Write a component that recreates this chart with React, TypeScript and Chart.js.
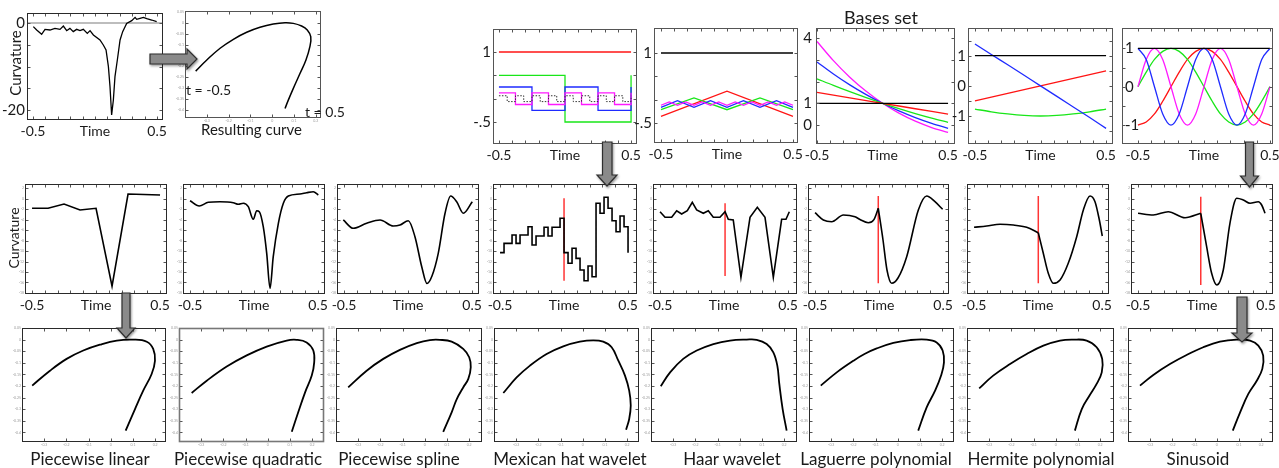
import React, { useEffect, useRef } from "react";
import { Chart, registerables } from "chart.js";

Chart.register(...registerables);

const FONT = "Lato, 'Liberation Sans', sans-serif";
const RED = "#ff1414";
const GREEN = "#19e619";
const BLUE = "#1f2bff";
const MAGENTA = "#ff19ff";
const BLACK = "#000000";
const MARKER = "#ff3535";

// ---------------- tick values / labels ----------------
const timeTicks = [-0.5, 0, 0.5];
const timeLabels = ["-0.5", "Time", "0.5"];
const tenthTicks = [-0.5, -0.4, -0.3, -0.2, -0.1, 0, 0.1, 0.2, 0.3, 0.4, 0.5];

const curvTicks = [0, -20];
const curvLabels = ["0", "-20"];
const curvMinor = [0, -5, -10, -15, -20];

const shapeXTicks = [-0.3, -0.2, -0.1, 0, 0.1, 0.2];
const shapeXLabels = ["-0.3", "-0.2", "-0.1", "0", "0.1", "0.2"];
const shapeYTicks = [0.05, 0, -0.05, -0.1, -0.15, -0.2, -0.25, -0.3, -0.35, -0.4];
const shapeYLabels = ["0.05", "0", "-0.05", "-0.1", "-0.15", "-0.2", "-0.25", "-0.3", "-0.35", "-0.4"];

const recYTicks = [2, 0, -2, -4, -6, -8, -10, -12, -14, -16, -18];
const recYLabels = ["2", "0", "-2", "-4", "-6", "-8", "-10", "-12", "-14", "-16", "-18"];

const basesHalfTicks = [1, -0.5];
const basesHalfLabels = ["1", "-.5"];
const basesHalfMinor = [1, 0.5, 0, -0.5];
const lagTicks = [4, 1, 0];
const lagLabels = ["4", "1", "0"];
const lagMinor = [4, 3, 2, 1, 0];
const unitTicks = [1, 0, -1];
const unitLabels = ["1", "0", "-1"];
const hermMinor = [1.5, 1, 0.5, 0, -0.5, -1, -1.5];
const sinMinor = [1, 0.5, 0, -0.5, -1];

// ---------------- measured curvature (top left) ----------------
const curvTime = [-0.497, -0.47, -0.43, -0.403, -0.363, -0.323, -0.282, -0.255, -0.228, -0.202, -0.175, -0.148, -0.121, -0.094, -0.062, -0.04, -0.013, 0.04, 0.067, 0.089, 0.108, 0.121, 0.134, 0.148, 0.161, 0.18, 0.202, 0.223, 0.255, 0.296, 0.323, 0.336, 0.363, 0.39, 0.417, 0.457, 0.497];
const curvValue = [-0.84, -1.61, -2.61, -1.46, -1.61, -1.23, -1.46, -0.69, -1.76, -1.23, -1.99, -1.46, -1.76, -1.46, -2.38, -1.76, -2.76, -3.91, -5.06, -6.21, -10.04, -14.64, -21.15, -17.7, -12.34, -8.51, -3.91, -1.99, -0.08, 0.54, 1.3, 0.84, 1.07, 1.3, 1.0, 0.69, 0.31];
const zeroLineTime = [-0.548, 0.548];
const zeroLineValue = [0, 0];

// ---------------- resulting curve (top) ----------------
const resultX = [-0.351, -0.3, -0.239, -0.178, -0.117, -0.056, 0.005, 0.059, 0.097, 0.135, 0.161, 0.177, 0.173, 0.155, 0.128, 0.097, 0.074, 0.059];
const resultY = [-0.222, -0.171, -0.117, -0.076, -0.044, -0.021, -0.006, 0, -0.003, -0.015, -0.033, -0.064, -0.11, -0.171, -0.232, -0.301, -0.355, -0.393];

// ---------------- bases set ----------------
const grid2 = [-0.5, 0.5];
const grid3 = [-0.5, 0, 0.5];
const grid5 = [-0.5, -0.25, 0, 0.25, 0.5];
const grid9 = [-0.5, -0.375, -0.25, -0.125, 0, 0.125, 0.25, 0.375, 0.5];
const grid17 = [-0.5, -0.4375, -0.375, -0.3125, -0.25, -0.1875, -0.125, -0.0625, 0, 0.0625, 0.125, 0.1875, 0.25, 0.3125, 0.375, 0.4375, 0.5];

const haarRed = [1, 1];
const haarGreen = [0.5, -0.5, 0.5];
const haarBlue = [0.25, -0.25, 0.25, -0.25, 0.25];
const haarMagenta = [0.125, -0.125, 0.125, -0.125, 0.125, -0.125, 0.125, -0.125, 0.125];
const haarDotted = [0.0625, -0.0625, 0.0625, -0.0625, 0.0625, -0.0625, 0.0625, -0.0625, 0.0625, -0.0625, 0.0625, -0.0625, 0.0625, -0.0625, 0.0625, -0.0625, 0.0625];

const hatBlack = [1, 1];
const hatRed = [-0.36, 0.18, -0.36];
const hatGreen = [-0.215, 0.036, -0.215, 0.036, -0.215];
const hatBlue = [-0.166, -0.022, -0.166, -0.022, -0.166, -0.022, -0.166, -0.022, -0.166];
const hatMagenta = [-0.12, -0.05, -0.12, -0.05, -0.12, -0.05, -0.12, -0.05, -0.12, -0.05, -0.12, -0.05, -0.12, -0.05, -0.12, -0.05, -0.12];

const lagBlack = [1, 1];
const lagRed = [1.5, 1.375, 1.25, 1.125, 1, 0.875, 0.75, 0.625, 0.5];
const lagGreen = [2.125, 1.82, 1.531, 1.258, 1, 0.758, 0.531, 0.32, 0.125];
const lagBlue = [2.896, 2.345, 1.846, 1.399, 1, 0.648, 0.341, 0.077, -0.146];
const lagMagenta = [3.836, 2.958, 2.198, 1.548, 1, 0.546, 0.177, -0.113, -0.331];

const hermBlack = [1, 1];
const hermRed = [-0.5, -0.375, -0.25, -0.125, 0, 0.125, 0.25, 0.375, 0.5];
const hermBlue = [1.39, 1.04, 0.7, 0.35, 0, -0.35, -0.7, -1.05, -1.41];
const hermGreen = [-0.77, -0.86, -0.93, -0.98, -1.0, -0.98, -0.93, -0.86, -0.77];

const sinBlack = [1, 1];
const sinRed = [-1, -0.92, -0.71, -0.38, 0, 0.38, 0.71, 0.92, 1, 0.92, 0.71, 0.38, 0, -0.38, -0.71, -0.92, -1];
const sinGreen = [0, 0.38, 0.71, 0.92, 1, 0.92, 0.71, 0.38, 0, -0.38, -0.71, -0.92, -1, -0.92, -0.71, -0.38, 0];
const sinBlue = [1, 0.71, 0, -0.71, -1, -0.71, 0, 0.71, 1, 0.71, 0, -0.71, -1, -0.71, 0, 0.71, 1];
const sinMagenta = [0, 0.71, 1, 0.71, 0, -0.71, -1, -0.71, 0, 0.71, 1, 0.71, 0, -0.71, -1, -0.71, 0];

// ---------------- reconstructed curvature (middle row) ----------------
const pwlTime = [-0.5, -0.375, -0.25, -0.125, 0, 0.125, 0.25, 0.375, 0.5];
const pwlCurv = [-1.84, -1.84, -1.02, -2.16, -1.84, -16.7, 0.89, 0.8, 0.7];

const pwqTime = [-0.5, -0.428, -0.357, -0.266, -0.162, -0.123, -0.084, -0.045, -0.006, 0.021, 0.041, 0.072, 0.099, 0.125, 0.15, 0.19, 0.229, 0.268, 0.359, 0.411, 0.463, 0.502];
const pwqCurv = [-0.39, -1.4, -0.69, -0.58, -0.77, -1.08, -0.88, -1.53, -3.94, -2.3, -2.49, -5.35, -10.43, -17.11, -11.08, -4.7, -0.88, 0.51, 0.89, 1.14, 1.33, 0.7];

const splTime = [-0.506, -0.428, -0.323, -0.219, -0.115, -0.063, 0.002, 0.054, 0.107, 0.148, 0.187, 0.236, 0.289, 0.333, 0.38, 0.432, 0.502];
const splCurv = [-4.07, -5.66, -4.7, -4.07, -5.22, -5.03, -4.21, -7.26, -12.99, -16.2, -14.76, -10.43, -2.79, 0.51, -0.58, -2.79, -0.58];

const mexTime = [-0.5, -0.46875, -0.4375, -0.40625, -0.375, -0.34375, -0.3125, -0.28125, -0.25, -0.21875, -0.1875, -0.15625, -0.125, -0.09375, -0.0625, -0.03125, 0, 0.03125, 0.0625, 0.09375, 0.125, 0.15625, 0.1875, 0.21875, 0.25, 0.28125, 0.3125, 0.34375, 0.375, 0.40625, 0.4375, 0.46875, 0.5];
const mexCurv = [-10.31, -8.53, -8.53, -6.94, -8.53, -6.94, -6.94, -5.35, -8.85, -7.13, -7.13, -5.47, -7.13, -5.47, -5.47, -3.75, -10.31, -12.34, -9.48, -11.39, -13.62, -15.66, -12.85, -14.9, -0.88, -2.79, 0.26, -1.84, -4.21, -6.31, -3.31, -5.35, -10.31];

const haarTime = [-0.5, -0.461, -0.409, -0.37, -0.331, -0.287, -0.248, -0.214, -0.162, -0.123, -0.084, -0.032, 0.008, 0.033, 0.072, 0.132, 0.203, 0.26, 0.32, 0.385, 0.45, 0.484, 0.51];
const haarCurv = [-2.49, -3.56, -3.56, -2.3, -2.93, -2.3, -0.69, -2.16, -2.79, -2.3, -3.56, -3.56, -2.49, -3.94, -4.07, -15.01, -3.56, -1.65, -3.56, -15.01, -3.94, -3.94, -2.49];

const lagTimeA = [-0.5, -0.435, -0.37, -0.279, -0.188, -0.149, -0.084, -0.04, -0.006];
const lagCurvA = [-2.68, -4.07, -4.4, -3.12, -3.45, -3.98, -4.6, -4.0, -1.84];
const lagTimeB = [-0.006, 0.031, 0.062, 0.099, 0.148, 0.216, 0.307, 0.372, 0.437, 0.497];
const lagCurvB = [-1.84, -7.89, -13.62, -16.16, -15.15, -11.08, -2.16, 0.51, -0.58, -2.03];

const hermTimeA = [-0.5, -0.401, -0.297, -0.193, -0.089, 0.002];
const hermCurvA = [-5.47, -5.22, -4.89, -5.03, -5.47, -6.5];
const hermTimeB = [0.002, 0.041, 0.08, 0.119, 0.172, 0.236, 0.302, 0.354, 0.406, 0.445, 0.479, 0.502];
const hermCurvB = [-6.5, -10.43, -14.25, -16.16, -15.53, -12.34, -7.26, -2.16, 0.51, -0.58, -4.07, -7.13];

const sinTimeA = [-0.5, -0.381, -0.264, -0.133, -0.01];
const sinCurvA = [-2.79, -3.12, -2.49, -3.63, -2.79];
const sinTimeB = [-0.01, 0.036, 0.075, 0.115, 0.166, 0.218, 0.271, 0.322, 0.375, 0.44, 0.466, 0.492];
const sinCurvB = [-2.79, -9.17, -14.25, -16.48, -13.62, -4.7, 0.07, -0.25, -0.88, -0.58, -1.21, -2.79];

// red split markers (Mexican hat, Haar, Laguerre, Hermite, Sinusoid)
const markerTime = [0, 0.008, -0.006, 0.002, -0.01];
const markerTop = [0.07, -0.88, 0.51, 0.51, 0.38];
const markerBottom = [-15.66, -14.76, -16.16, -16.16, -16.48];

// ---------------- resulting shapes (bottom row) ----------------
const shapeLinX = [-0.354, -0.274, -0.199, -0.124, -0.049, 0.027, 0.101, 0.162, 0.191, 0.199, 0.184, 0.146, 0.109, 0.067];
const shapeLinY = [-0.198, -0.134, -0.083, -0.047, -0.022, -0.004, 0, -0.009, -0.04, -0.091, -0.148, -0.22, -0.299, -0.392];
const shapeQuadX = [-0.343, -0.275, -0.185, -0.095, -0.005, 0.085, 0.13, 0.175, 0.205, 0.209, 0.198, 0.168, 0.137, 0.108];
const shapeQuadY = [-0.23, -0.177, -0.116, -0.068, -0.03, -0.004, -0.001, -0.012, -0.047, -0.098, -0.155, -0.227, -0.313, -0.397];
const shapeSplX = [-0.345, -0.262, -0.187, -0.112, -0.036, 0.023, 0.068, 0.121, 0.173, 0.2, 0.207, 0.196, 0.173, 0.144, 0.121, 0.083];
const shapeSplY = [-0.206, -0.134, -0.083, -0.044, -0.015, -0.002, -0.001, -0.009, -0.04, -0.076, -0.119, -0.169, -0.206, -0.256, -0.313, -0.397];
const shapeMexX = [-0.358, -0.298, -0.238, -0.163, -0.088, -0.013, 0.047, 0.092, 0.13, 0.16, 0.19, 0.209, 0.216, 0.209, 0.195];
const shapeMexY = [-0.23, -0.163, -0.112, -0.062, -0.029, -0.009, -0.003, -0.009, -0.033, -0.091, -0.155, -0.22, -0.284, -0.342, -0.388];
const shapeHaarX = [-0.356, -0.314, -0.255, -0.194, -0.119, -0.044, 0.031, 0.076, 0.121, 0.151, 0.169, 0.178, 0.193, 0.211];
const shapeHaarY = [-0.201, -0.141, -0.083, -0.047, -0.019, -0.004, 0, -0.001, -0.019, -0.055, -0.112, -0.191, -0.299, -0.392];
const shapeLagX = [-0.347, -0.275, -0.2, -0.15, -0.095, -0.02, 0.055, 0.13, 0.175, 0.202, 0.208, 0.195, 0.168, 0.13, 0.092];
const shapeLagY = [-0.198, -0.141, -0.091, -0.062, -0.038, -0.014, -0.002, 0, -0.012, -0.047, -0.098, -0.155, -0.22, -0.292, -0.392];
const shapeHermX = [-0.345, -0.282, -0.206, -0.131, -0.056, 0.019, 0.079, 0.139, 0.184, 0.209, 0.207, 0.184, 0.152, 0.117, 0.086];
const shapeHermY = [-0.21, -0.155, -0.105, -0.062, -0.026, -0.004, 0, -0.004, -0.033, -0.083, -0.141, -0.191, -0.241, -0.299, -0.392];
const shapeSinX = [-0.346, -0.286, -0.211, -0.136, -0.061, 0.014, 0.09, 0.15, 0.187, 0.209, 0.205, 0.18, 0.142, 0.105, 0.072];
const shapeSinY = [-0.198, -0.152, -0.105, -0.066, -0.033, -0.009, 0, -0.004, -0.026, -0.069, -0.126, -0.177, -0.234, -0.313, -0.392];

const methodNames = ["Piecewise linear", "Piecewise quadratic", "Piecewise spline", "Mexican hat wavelet", "Haar wavelet", "Laguerre polynomial", "Hermite polynomial", "Sinusoid"];

// ---------------- layout (page pixels) ----------------
const recLefts = [25, 183, 337, 493, 653, 808, 967, 1131];
const recWidths = [142, 142, 142, 144, 144, 141, 142, 142];
const shapeLefts = [22, 179, 336, 494, 651, 809, 967, 1128];
const shapeWidths = [144, 145, 146, 145, 146, 145, 147, 145];
const nameCenters = [90, 248, 399, 570, 732, 876, 1041, 1198];

// ---------------- helpers ----------------
function line(xs: number[], ys: number[], color: string, width: number, extra: any = {}) {
  return {
    data: xs.map((x, i) => ({ x, y: ys[i] })),
    borderColor: color,
    backgroundColor: color,
    borderWidth: width,
    pointRadius: 0,
    showLine: true,
    fill: false,
    tension: 0,
    ...extra,
  };
}

const framePlugin = {
  id: "frame",
  afterDatasetsDraw(chart: any, _args: any, opts: any) {
    const { ctx, chartArea: a, scales } = chart;
    const len = opts.len;
    ctx.save();
    const L = Math.round(a.left) + 0.5;
    const T = Math.round(a.top) + 0.5;
    const R = Math.round(a.right) - 0.5;
    const B = Math.round(a.bottom) - 0.5;
    ctx.lineWidth = 1;
    ctx.strokeStyle = opts.tickColor;
    ctx.beginPath();
    (opts.xMinor || []).forEach((v: number) => {
      const p = scales.x.getPixelForValue(v);
      if (p < a.left + 1 || p > a.right - 1) return;
      const px = Math.round(p) + 0.5;
      ctx.moveTo(px, B);
      ctx.lineTo(px, B - len);
      ctx.moveTo(px, T);
      ctx.lineTo(px, T + len);
    });
    (opts.yMinor || []).forEach((v: number) => {
      const p = scales.y.getPixelForValue(v);
      if (p < a.top + 1 || p > a.bottom - 1) return;
      const py = Math.round(p) + 0.5;
      ctx.moveTo(L, py);
      ctx.lineTo(L + len, py);
      ctx.moveTo(R, py);
      ctx.lineTo(R - len, py);
    });
    ctx.stroke();
    ctx.strokeStyle = opts.color;
    ctx.lineWidth = opts.width;
    ctx.strokeRect(L, T, R - L, B - T);
    ctx.restore();
  },
};

interface Spec {
  box: number[]; // x, y, w, h of the plot frame
  m: number[]; // left, right, top, bottom margins
  x: number[];
  y: number[];
  xTicks: number[];
  xLabels: string[];
  xFont: number;
  xPad: number;
  xColor: string;
  yTicks: number[];
  yLabels: string[];
  yFont: number;
  yPad: number;
  yColor: string;
  yMirror?: boolean;
  xMinor: number[];
  yMinor: number[];
  datasets: any[];
  frameColor?: string;
  frameWidth?: number;
}

function buildConfig(s: Spec): any {
  const [l, r, t, b] = s.m;
  return {
    type: "scatter",
    data: { datasets: s.datasets },
    options: {
      responsive: false,
      animation: false,
      devicePixelRatio: 1,
      events: [],
      layout: { padding: { left: 0, right: r, top: t, bottom: 0 } },
      plugins: {
        legend: { display: false },
        tooltip: { enabled: false },
        frame: {
          xMinor: s.xMinor,
          yMinor: s.yMinor,
          color: s.frameColor || "#2a2a2a",
          width: s.frameWidth || 1,
          tickColor: "#555",
          len: 3,
        },
      },
      scales: {
        x: {
          type: "linear",
          min: s.x[0],
          max: s.x[1],
          afterBuildTicks: (sc: any) => {
            sc.ticks = s.xTicks.map((v) => ({ value: v }));
          },
          afterFit: (sc: any) => {
            sc.height = b;
          },
          grid: { display: false, drawTicks: false },
          border: { display: false },
          ticks: {
            autoSkip: false,
            maxRotation: 0,
            padding: s.xPad,
            color: s.xColor,
            font: { family: FONT, size: s.xFont },
            callback: (_v: any, i: number) => s.xLabels[i],
          },
        },
        y: {
          type: "linear",
          min: s.y[0],
          max: s.y[1],
          afterBuildTicks: (sc: any) => {
            sc.ticks = s.yTicks.map((v) => ({ value: v }));
          },
          afterFit: (sc: any) => {
            sc.width = l;
          },
          grid: { display: false, drawTicks: false },
          border: { display: false },
          ticks: {
            autoSkip: false,
            mirror: !!s.yMirror,
            padding: s.yPad,
            color: s.yColor,
            font: { family: FONT, size: s.yFont },
            callback: (_v: any, i: number) => s.yLabels[i],
          },
        },
      },
    },
    plugins: [framePlugin],
  };
}

function Panel({ spec }: { spec: Spec }) {
  const ref = useRef<HTMLCanvasElement | null>(null);
  const [bx, by, bw, bh] = spec.box;
  const [l, r, t, b] = spec.m;
  const W = bw + l + r;
  const H = bh + t + b;
  useEffect(() => {
    const chart = new Chart(ref.current as HTMLCanvasElement, buildConfig(spec));
    return () => chart.destroy();
  }, []);
  return (
    <canvas
      ref={ref}
      width={W}
      height={H}
      style={{ position: "absolute", left: bx - l, top: by - t, width: W, height: H }}
    />
  );
}

const TXT = "#1a1a1a";
const TINY = "#9a9a9a";

function timeAxis(box: number[], m: number[], x: number[], y: number[]) {
  return {
    box,
    m,
    x,
    y,
    xTicks: timeTicks,
    xLabels: timeLabels,
    xFont: 14,
    xPad: 3,
    xColor: TXT,
    xMinor: tenthTicks,
  };
}

// ---------------- specs ----------------
const curvatureSpec: Spec = {
  ...timeAxis([27, 13, 136, 107], [27, 12, 14, 24], [-0.548, 0.548], [-22.3, 2.3]),
  yTicks: curvTicks,
  yLabels: curvLabels,
  yFont: 15,
  yPad: 2,
  yColor: TXT,
  yMinor: curvMinor,
  datasets: [
    line(curvTime, curvValue, BLACK, 1.3),
    line(zeroLineTime, zeroLineValue, "#bdbdbd", 2),
  ],
};

const resultSpec: Spec = {
  box: [185, 11, 136, 107],
  m: [16, 10, 8, 8],
  x: [-0.4, 0.224],
  y: [-0.437, 0.0537],
  xTicks: shapeXTicks,
  xLabels: shapeXLabels,
  xFont: 3.5,
  xPad: 1,
  xColor: TINY,
  yTicks: shapeYTicks,
  yLabels: shapeYLabels,
  yFont: 3.5,
  yPad: 1,
  yColor: TINY,
  xMinor: shapeXTicks,
  yMinor: shapeYTicks,
  frameColor: "#555",
  datasets: [line(resultX, resultY, BLACK, 1.5, { tension: 0.4 })],
};

const basesSpecs: Spec[] = [
  {
    ...timeAxis([493, 29, 144, 115], [28, 12, 14, 24], [-0.545, 0.545], [-0.971, 1.493]),
    yTicks: basesHalfTicks, yLabels: basesHalfLabels, yFont: 15, yPad: 2, yColor: TXT, yMinor: basesHalfMinor,
    frameColor: "#555",
    datasets: [
      line(grid2, haarRed, RED, 1.3, { stepped: true }),
      line(grid17, haarDotted, "#333", 1, { stepped: true, borderDash: [1.5, 1.5] }),
      line(grid9, haarMagenta, MAGENTA, 1.3, { stepped: true }),
      line(grid5, haarBlue, BLUE, 1.3, { stepped: true }),
      line(grid3, haarGreen, GREEN, 1.3, { stepped: true }),
    ],
  },
  {
    ...timeAxis([654, 28, 144, 115], [28, 12, 14, 24], [-0.553, 0.538], [-0.929, 1.536]),
    yTicks: basesHalfTicks, yLabels: basesHalfLabels, yFont: 15, yPad: 2, yColor: TXT, yMinor: basesHalfMinor,
    frameColor: "#555",
    datasets: [
      line(grid2, hatBlack, BLACK, 1.3),
      line(grid17, hatMagenta, MAGENTA, 1.3),
      line(grid9, hatBlue, BLUE, 1.3),
      line(grid5, hatGreen, GREEN, 1.3),
      line(grid3, hatRed, RED, 1.3),
    ],
  },
  {
    ...timeAxis([816, 28, 139, 116], [28, 12, 14, 24], [-0.508, 0.553], [-0.869, 4.457]),
    yTicks: lagTicks, yLabels: lagLabels, yFont: 15, yPad: 4, yColor: TXT, yMinor: lagMinor,
    frameColor: "#555",
    datasets: [
      line(grid2, lagBlack, BLACK, 1.3),
      line(grid9, lagRed, RED, 1.3),
      line(grid9, lagGreen, GREEN, 1.3, { cubicInterpolationMode: "monotone" }),
      line(grid9, lagBlue, BLUE, 1.3, { cubicInterpolationMode: "monotone" }),
      line(grid9, lagMagenta, MAGENTA, 1.3, { cubicInterpolationMode: "monotone" }),
    ],
  },
  {
    ...timeAxis([968, 28, 145, 116], [28, 12, 14, 24], [-0.553, 0.553], [-1.929, 1.919]),
    yTicks: unitTicks, yLabels: unitLabels, yFont: 15, yPad: 2, yColor: TXT, yMinor: hermMinor,
    frameColor: "#555",
    datasets: [
      line(grid2, hermBlack, BLACK, 1.3),
      line(grid9, hermBlue, BLUE, 1.3, { cubicInterpolationMode: "monotone" }),
      line(grid9, hermRed, RED, 1.3),
      line(grid9, hermGreen, GREEN, 1.3, { cubicInterpolationMode: "monotone" }),
    ],
  },
  {
    ...timeAxis([1122, 28, 151, 116], [28, 12, 14, 24], [-0.621, 0.523], [-1.494, 1.53]),
    yTicks: unitTicks, yLabels: unitLabels, yFont: 15, yPad: 3, yColor: TXT, yMirror: true, yMinor: sinMinor,
    frameColor: "#555",
    datasets: [
      line(grid2, sinBlack, BLACK, 1.3),
      line(grid17, sinBlue, BLUE, 1.3, { cubicInterpolationMode: "monotone" }),
      line(grid17, sinMagenta, MAGENTA, 1.3, { cubicInterpolationMode: "monotone" }),
      line(grid17, sinGreen, GREEN, 1.3, { cubicInterpolationMode: "monotone" }),
      line(grid17, sinRed, RED, 1.3, { cubicInterpolationMode: "monotone" }),
    ],
  },
];

function marker(i: number) {
  return line([markerTime[i], markerTime[i]], [markerTop[i], markerBottom[i]], MARKER, 1.5);
}

const smooth = { cubicInterpolationMode: "monotone" };
const recDatasets: any[][] = [
  [line(pwlTime, pwlCurv, BLACK, 1.6)],
  [line(pwqTime, pwqCurv, BLACK, 1.6, smooth)],
  [line(splTime, splCurv, BLACK, 1.6, smooth)],
  [line(mexTime, mexCurv, BLACK, 1.6, { stepped: true }), marker(0)],
  [line(haarTime, haarCurv, BLACK, 1.6), marker(1)],
  [line(lagTimeA, lagCurvA, BLACK, 1.6, smooth), line(lagTimeB, lagCurvB, BLACK, 1.6, smooth), marker(2)],
  [line(hermTimeA, hermCurvA, BLACK, 1.6, smooth), line(hermTimeB, hermCurvB, BLACK, 1.6, smooth), marker(3)],
  [line(sinTimeA, sinCurvA, BLACK, 1.6, smooth), line(sinTimeB, sinCurvB, BLACK, 1.6, smooth), marker(4)],
];

const recSpecs: Spec[] = recLefts.map((left, i) => ({
  ...timeAxis([left, 184, recWidths[i], 110], [16, 14, 14, 24], [-0.555, -0.555 + recWidths[i] / 128], [-18.2, 2.8]),
  yTicks: recYTicks,
  yLabels: recYLabels,
  yFont: 3.5,
  yPad: 1,
  yColor: TINY,
  yMinor: recYTicks,
  datasets: recDatasets[i],
}));

const shapeData: number[][][] = [
  [shapeLinX, shapeLinY],
  [shapeQuadX, shapeQuadY],
  [shapeSplX, shapeSplY],
  [shapeMexX, shapeMexY],
  [shapeHaarX, shapeHaarY],
  [shapeLagX, shapeLagY],
  [shapeHermX, shapeHermY],
  [shapeSinX, shapeSinY],
];

const shapeSpecs: Spec[] = shapeLefts.map((left, i) => ({
  box: [left, 328, shapeWidths[i], 114],
  m: [16, 12, 12, 10],
  x: [-0.4, -0.4 + shapeWidths[i] / 222],
  y: [-0.441, 0.05],
  xTicks: shapeXTicks,
  xLabels: shapeXLabels,
  xFont: 3.5,
  xPad: 1,
  xColor: TINY,
  yTicks: shapeYTicks,
  yLabels: shapeYLabels,
  yFont: 3.5,
  yPad: 1,
  yColor: TINY,
  xMinor: shapeXTicks,
  yMinor: shapeYTicks,
  frameColor: i === 1 ? "#777" : "#2a2a2a",
  frameWidth: i === 1 ? 1.6 : 1,
  datasets: [line(shapeData[i][0], shapeData[i][1], BLACK, 1.8, { tension: 0.4 })],
}));

// ---------------- page ----------------
function Text({ x, y, size, children, anchor = "left", rotate = false }: any) {
  const tx = anchor === "center" ? "-50%" : "0";
  return (
    <div
      style={{
        position: "absolute",
        left: x,
        top: y,
        transform: rotate ? "translate(-50%, -50%) rotate(-90deg)" : `translate(${tx}, -50%)`,
        fontFamily: FONT,
        fontSize: size,
        color: TXT,
        whiteSpace: "nowrap",
        lineHeight: 1,
      }}
    >
      {children}
    </div>
  );
}

const arrowShapes = [
  "150,54 187,54 187,49 197,59 187,69 187,64 150,64",
  "602.5,142 612,142 612,175 617,175 607,186 597,175 602.5,175",
  "1245.5,142 1253.5,142 1253.5,176 1258.5,176 1249.5,187 1240.5,176 1245.5,176",
  "122,293 130,293 130,328 135,328 126,338 117,328 122,328",
  "1237,297 1247,297 1247,333 1252,333 1242,342 1232,333 1237,333",
];

export default function App() {
  return (
    <div
      style={{
        position: "absolute",
        left: 0,
        top: 0,
        width: 1279,
        height: 468,
        background: "#ffffff",
        overflow: "hidden",
      }}
    >
      <Panel spec={curvatureSpec} />
      <Panel spec={resultSpec} />
      {basesSpecs.map((s, i) => (
        <Panel key={"b" + i} spec={s} />
      ))}
      {recSpecs.map((s, i) => (
        <Panel key={"r" + i} spec={s} />
      ))}
      {shapeSpecs.map((s, i) => (
        <Panel key={"s" + i} spec={s} />
      ))}

      <Text x={15} y={63} size={15} rotate>Curvature</Text>
      <Text x={14} y={238} size={14} rotate>Curvature</Text>
      <Text x={186} y={90} size={14}>t = -0.5</Text>
      <Text x={305} y={112} size={14}>t = 0.5</Text>
      <Text x={201} y={129} size={15}>Resulting curve</Text>
      <Text x={881} y={17} size={18} anchor="center">Bases set</Text>
      {methodNames.map((n, i) => (
        <Text key={n} x={nameCenters[i]} y={458} size={17} anchor="center">
          {n}
        </Text>
      ))}

      <svg
        width={1279}
        height={468}
        style={{ position: "absolute", left: 0, top: 0, pointerEvents: "none" }}
      >
        <defs>
          <filter id="arrowShadow" x="-50%" y="-50%" width="200%" height="200%">
            <feDropShadow dx="1" dy="1.5" stdDeviation="1.2" floodColor="#000" floodOpacity="0.4" />
          </filter>
        </defs>
        {arrowShapes.map((p, i) => (
          <polygon
            key={i}
            points={p}
            fill="#8a8a8a"
            stroke="#2e2e2e"
            strokeWidth={1.2}
            strokeLinejoin="miter"
            filter="url(#arrowShadow)"
          />
        ))}
      </svg>
    </div>
  );
}
